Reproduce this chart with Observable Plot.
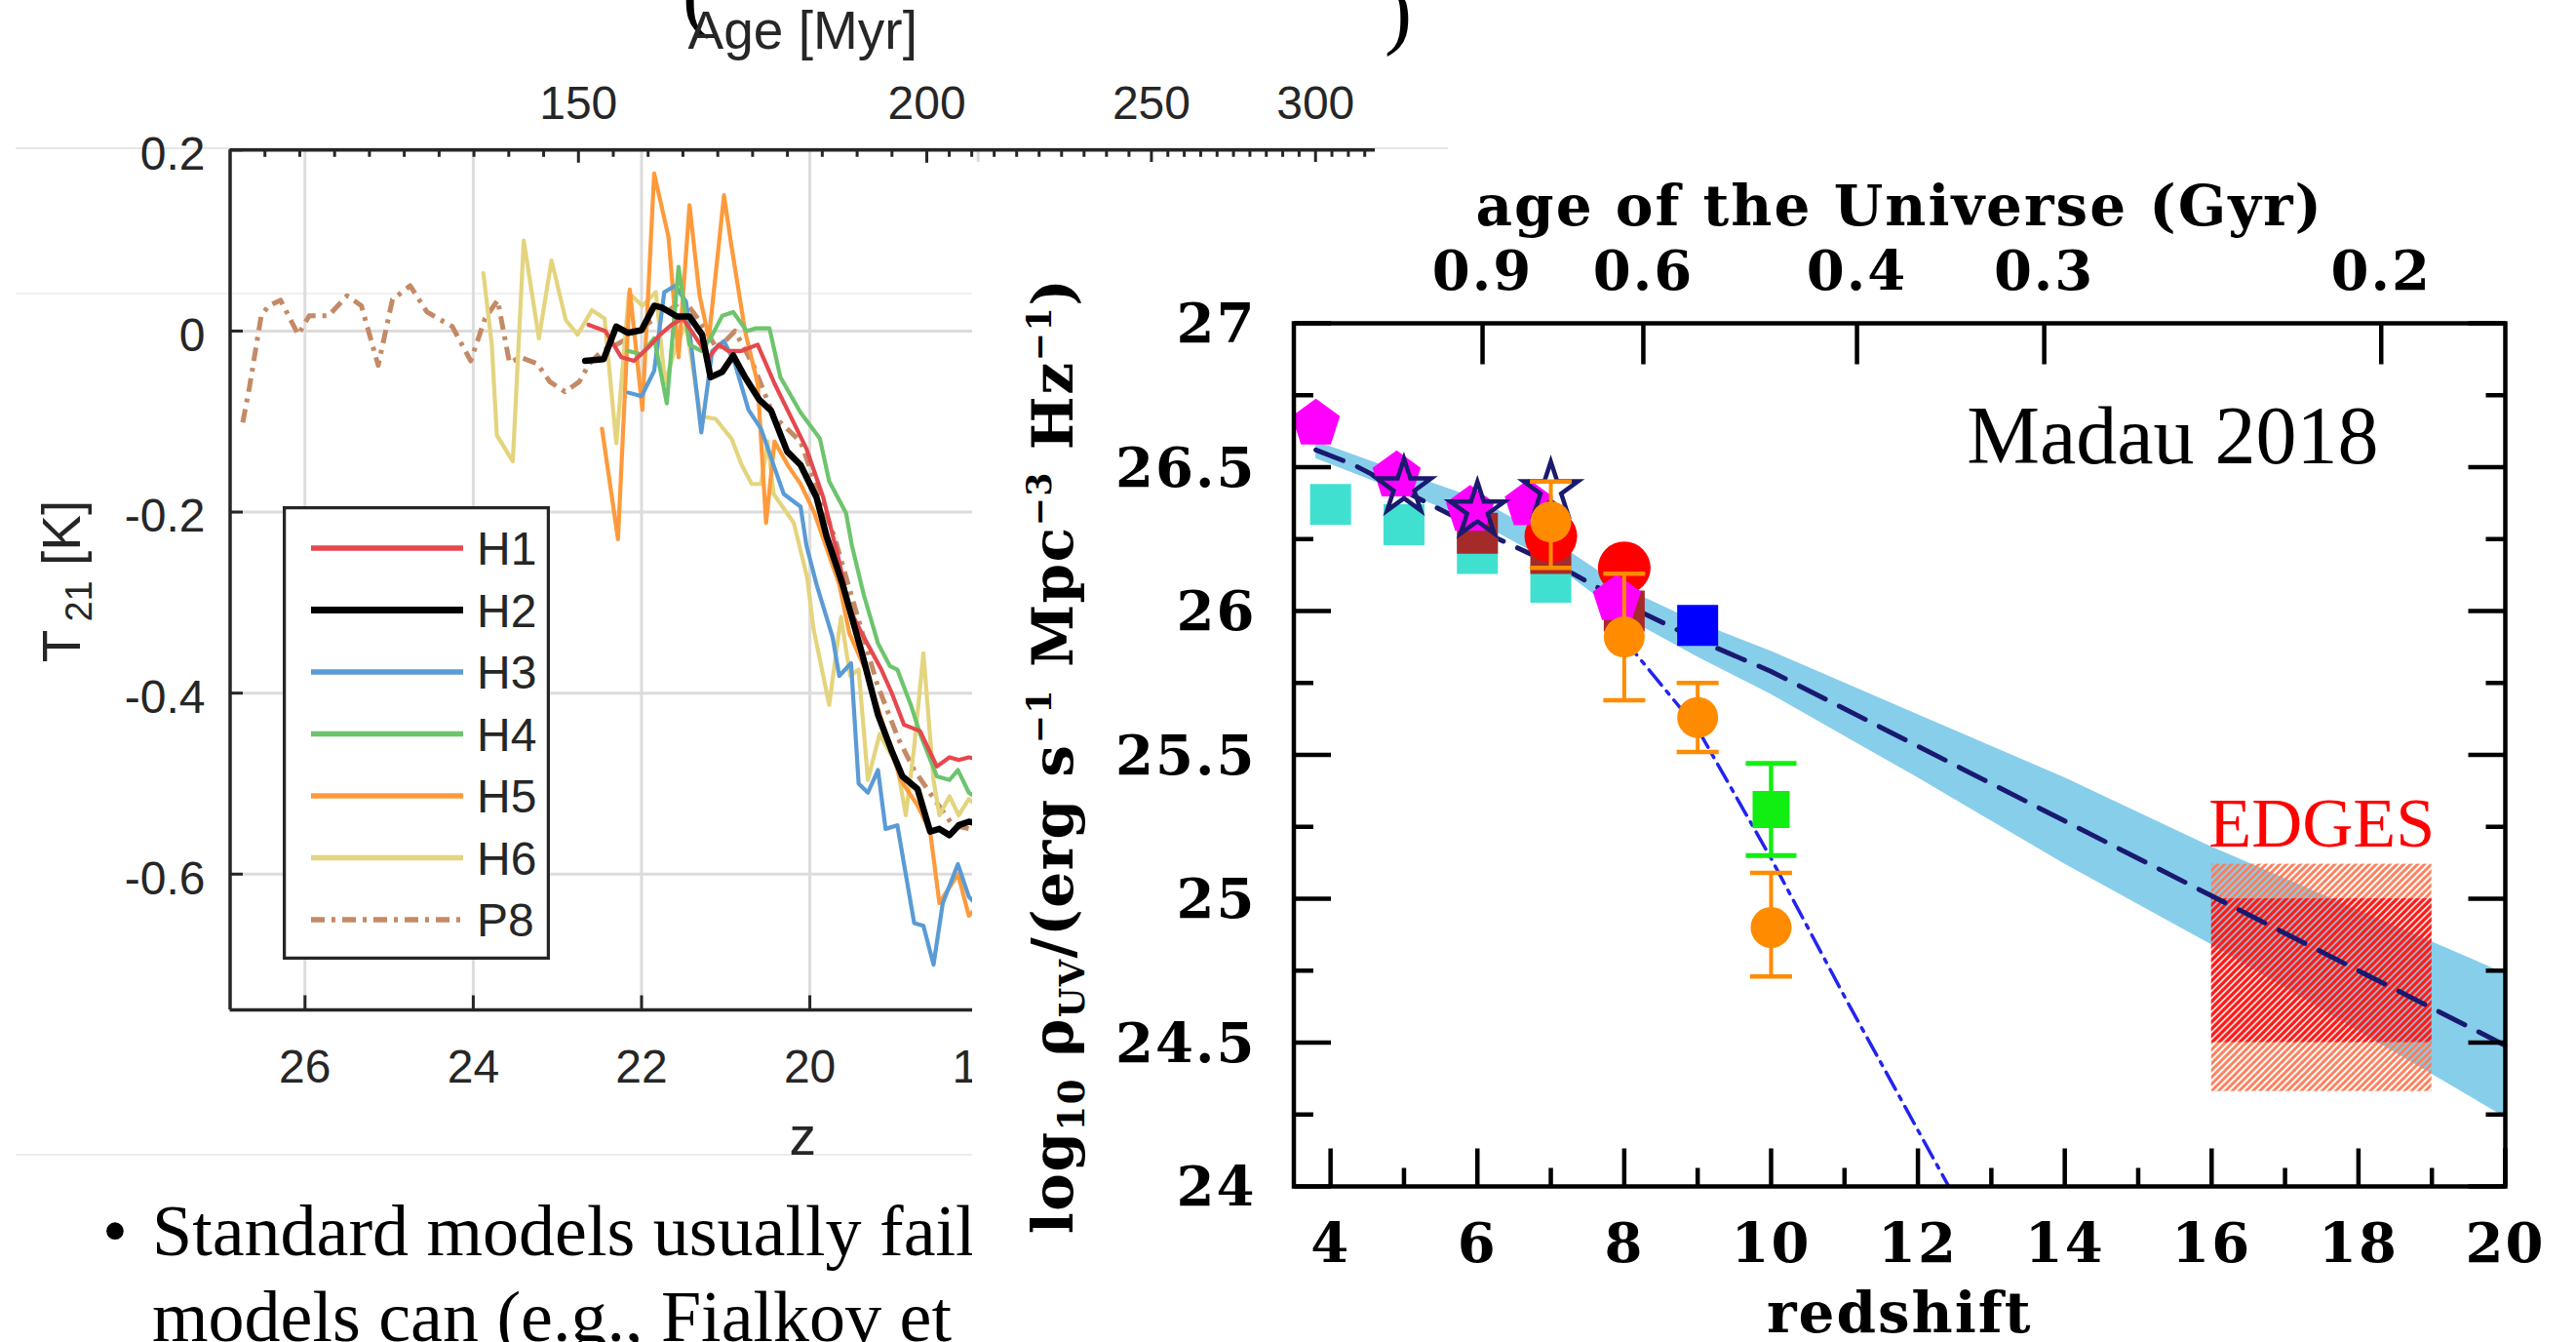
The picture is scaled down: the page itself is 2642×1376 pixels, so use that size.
<!DOCTYPE html>
<html>
<head>
<meta charset="utf-8">
<script src="https://cdn.jsdelivr.net/npm/d3@7"></script>
<script src="https://cdn.jsdelivr.net/npm/@observablehq/plot@0.6"></script>
<style>
html, body { margin: 0; padding: 0; background: #fff; }
#stage { position: relative; width: 2642px; height: 1376px; overflow: hidden; background: #fff; }
#stage > * { position: absolute; }
</style>
</head>
<body>
<div id="stage"></div>
<script>
// ================= LEFT PANEL DATA : T21 [K] versus z =================
const leftSeriesNames  = ["H1", "H2", "H3", "H4", "H5", "H6", "P8"];
const leftSeriesColors = ["#e5484d", "#000000", "#5a9bd5", "#6dc46d", "#fe9a3c", "#e4d47e", "#c48a66"];

const H1 = [[22.63,0.007],[22.43,0.000],[22.24,-0.029],[22.09,-0.033],[21.93,-0.019],[21.78,-0.004],[21.64,0.007],[21.51,0.014],[21.35,-0.008],[21.20,-0.029],[21.08,-0.015],[20.97,-0.022],[20.81,-0.022],[20.62,-0.015],[20.42,-0.058],[20.23,-0.094],[20.04,-0.130],[19.84,-0.184],[19.65,-0.255],[19.54,-0.305],[19.36,-0.338],[19.15,-0.374],[19.03,-0.399],[18.88,-0.435],[18.69,-0.442],[18.49,-0.481],[18.34,-0.471],[18.23,-0.474],[18.11,-0.471],[17.95,-0.475]];
const H2 = [[22.67,-0.033],[22.45,-0.031],[22.30,0.005],[22.16,-0.002],[22.00,0.001],[21.85,0.028],[21.76,0.026],[21.58,0.016],[21.43,0.016],[21.28,-0.004],[21.18,-0.051],[21.04,-0.045],[20.91,-0.027],[20.77,-0.051],[20.60,-0.076],[20.46,-0.088],[20.27,-0.133],[20.11,-0.148],[19.92,-0.184],[19.80,-0.227],[19.61,-0.280],[19.38,-0.356],[19.19,-0.424],[19.03,-0.463],[18.90,-0.492],[18.72,-0.506],[18.57,-0.553],[18.46,-0.550],[18.34,-0.557],[18.23,-0.546],[18.11,-0.542],[17.95,-0.545]];
const H3 = [[22.16,-0.068],[22.00,-0.072],[21.85,-0.044],[21.73,0.043],[21.60,0.050],[21.47,0.032],[21.29,-0.112],[21.16,-0.022],[21.02,-0.011],[20.89,-0.036],[20.73,-0.087],[20.58,-0.108],[20.42,-0.151],[20.31,-0.180],[20.11,-0.194],[20.04,-0.237],[19.92,-0.280],[19.73,-0.338],[19.65,-0.381],[19.51,-0.367],[19.42,-0.500],[19.31,-0.510],[19.19,-0.485],[19.10,-0.550],[18.96,-0.546],[18.76,-0.654],[18.65,-0.657],[18.53,-0.700],[18.42,-0.632],[18.24,-0.589],[18.11,-0.625],[17.95,-0.640]];
const H4 = [[22.16,-0.022],[22.00,-0.026],[21.85,-0.008],[21.70,-0.080],[21.56,0.071],[21.43,-0.015],[21.29,-0.022],[21.18,-0.008],[21.04,0.017],[20.91,0.021],[20.75,0.000],[20.64,0.003],[20.48,0.003],[20.35,-0.051],[20.11,-0.090],[19.88,-0.119],[19.77,-0.166],[19.57,-0.201],[19.50,-0.237],[19.36,-0.291],[19.19,-0.345],[19.05,-0.370],[18.96,-0.374],[18.80,-0.413],[18.69,-0.445],[18.49,-0.492],[18.34,-0.496],[18.24,-0.485],[18.11,-0.510],[17.95,-0.520]];
const H5 = [[22.47,-0.108],[22.28,-0.230],[22.14,0.046],[21.99,-0.087],[21.85,0.174],[21.68,0.104],[21.56,-0.029],[21.43,0.139],[21.31,0.039],[21.20,-0.008],[21.02,0.150],[20.93,0.093],[20.77,0.000],[20.62,-0.058],[20.52,-0.212],[20.42,-0.122],[20.25,-0.150],[20.11,-0.169],[19.95,-0.200],[19.80,-0.240],[19.65,-0.280],[19.53,-0.334],[19.34,-0.374],[19.19,-0.417],[18.92,-0.496],[18.72,-0.524],[18.57,-0.553],[18.46,-0.632],[18.24,-0.600],[18.11,-0.646],[17.95,-0.630]];
const H6 = [[23.88,0.064],[23.78,-0.015],[23.72,-0.115],[23.53,-0.144],[23.40,0.100],[23.22,-0.008],[23.07,0.078],[22.90,0.012],[22.76,-0.004],[22.59,0.023],[22.44,0.014],[22.30,-0.124],[22.15,0.042],[21.99,0.028],[21.83,0.043],[21.72,-0.058],[21.59,-0.015],[21.47,0.007],[21.30,-0.094],[21.12,-0.097],[20.93,-0.119],[20.81,-0.148],[20.69,-0.169],[20.58,-0.169],[20.50,-0.122],[20.43,-0.180],[20.19,-0.212],[20.03,-0.273],[19.96,-0.327],[19.77,-0.413],[19.63,-0.316],[19.52,-0.381],[19.42,-0.374],[19.31,-0.496],[19.17,-0.445],[18.96,-0.481],[18.86,-0.535],[18.76,-0.460],[18.65,-0.356],[18.53,-0.496],[18.46,-0.535],[18.34,-0.514],[18.23,-0.535],[18.11,-0.517],[17.95,-0.530]];
const P8 = [[26.74,-0.101],[26.66,-0.062],[26.52,0.017],[26.43,0.028],[26.29,0.034],[26.08,-0.004],[25.95,0.017],[25.72,0.017],[25.50,0.039],[25.33,0.028],[25.13,-0.038],[24.96,0.035],[24.75,0.050],[24.55,0.021],[24.25,0.005],[24.03,-0.033],[23.86,0.014],[23.71,0.034],[23.57,-0.035],[23.44,-0.029],[23.24,-0.036],[23.09,-0.056],[22.91,-0.067],[22.74,-0.056],[22.62,-0.036],[22.47,-0.022],[22.30,-0.015],[22.10,-0.005],[21.90,0.010],[21.70,0.021],[21.50,0.035],[21.30,0.010],[21.10,-0.020],[20.89,0.000],[20.66,-0.040],[20.43,-0.094],[20.11,-0.122],[19.96,-0.162],[19.70,-0.230],[19.45,-0.310],[19.20,-0.390],[18.95,-0.450],[18.76,-0.485],[18.50,-0.520],[18.30,-0.546],[18.10,-0.550],[17.90,-0.555]];

const leftZDomain = [26.89, 13.28];
const leftTDomain = [-0.75, 0.2];
const leftZTicks = [26, 24, 22, 20, 18];
const leftTTicks = [0.2, 0, -0.2, -0.4, -0.6];
const leftTTickLabels = ["0.2", "0", "-0.2", "-0.4", "-0.6"];
const ageMyrLabels = ["150", "200", "250", "300"];
const ageMyrTickZ = [22.75, 18.61, 15.94, 13.99];

// ================= RIGHT PANEL DATA : log10 rho_UV versus redshift =================
const rightZDomain = [3.5, 20];
const rightVDomain = [24, 27];
const fitZ = [3.8, 4.3, 5.36, 6.29, 7.3, 8.28, 9.0, 10.0, 12.0, 14.0, 16.0, 18.0, 20.0];
const fitV = [26.56, 26.51, 26.37, 26.25, 26.13, 25.99, 25.90, 25.79, 25.53, 25.27, 25.01, 24.75, 24.49];
const bandZ  = [3.8, 5, 6, 7, 8, 9, 10, 12, 14, 16, 18, 20];
const bandLo = [26.53, 26.41, 26.31, 26.17, 25.98, 25.84, 25.71, 25.42, 25.12, 24.84, 24.54, 24.24];
const bandHi = [26.59, 26.48, 26.39, 26.25, 26.08, 25.96, 25.86, 25.64, 25.42, 25.18, 24.96, 24.74];
const steepZ = [8, 9, 10, 11, 12.42];
const steepV = [25.90, 25.59, 25.14, 24.66, 24.00];
const pentZ = [3.8, 4.9, 5.9, 6.7, 7.9];
const pentV = [26.65, 26.47, 26.35, 26.37, 26.04];
const starZ = [5.0, 6.0, 7.0];
const starV = [26.43, 26.35, 26.42];
const cyanZ = [4.0, 5.0, 6.0, 7.0];
const cyanV = [26.37, 26.30, 26.20, 26.10];
const brownZ = [6, 7, 8];
const brownV = [26.27, 26.20, 26.00];
const redZ = [7, 8];
const redV = [26.26, 26.15];
const orangeZ  = [7, 8, 9, 10];
const orangeV  = [26.31, 25.91, 25.63, 24.90];
const orangeLo = [26.15, 25.69, 25.51, 24.73];
const orangeHi = [26.45, 26.13, 25.75, 25.09];
const blueZ = [9];
const blueV = [25.95];
const greenZ  = [10];
const greenV  = [25.31];
const greenLo = [25.15];
const greenHi = [25.47];
const edgesZ = [16, 19];
const edgesOuter = [24.33, 25.12];
const edgesInner = [24.50, 25.00];
const rightXTicks = [4, 6, 8, 10, 12, 14, 16, 18, 20];
const rightXMinor = [5, 7, 9, 11, 13, 15, 17, 19];
const rightYTicks = [24, 24.5, 25, 25.5, 26, 26.5, 27];
const rightYMinor = [24.25, 24.75, 25.25, 25.75, 26.25, 26.75];
const ageGyrLabels = ["0.9", "0.6", "0.4", "0.3", "0.2"];
const ageGyrTickZ = [6.07, 8.26, 11.17, 13.72, 18.31];

// ================= helpers =================
const symTick = (dx, dy) => ({draw(ctx, size) { const l = Math.sqrt(size / Math.PI); ctx.moveTo(0, 0); ctx.lineTo(dx * l, dy * l); }});
const symUp = symTick(0, -1), symDown = symTick(0, 1), symRight = symTick(1, 0), symLeft = symTick(-1, 0);
const symHBar = {draw(ctx, size) { const l = Math.sqrt(size / Math.PI); ctx.moveTo(-l, 0); ctx.lineTo(l, 0); }};
const symPentagon = {draw(ctx, size) {
  const r = Math.sqrt(size / Math.PI);
  for (let i = 0; i < 5; i++) {
    const a = -Math.PI / 2 + i * 2 * Math.PI / 5;
    const x = r * Math.cos(a), y = r * Math.sin(a);
    if (i) ctx.lineTo(x, y); else ctx.moveTo(x, y);
  }
  ctx.closePath();
}};
const pts = (zs, vs) => zs.map((z, i) => ({z, v: vs[i]}));
const M = "middle";

const stage = document.getElementById("stage");
const W = 2642, H = 1376;

// ================= decorations under =================
const under = d3.create("svg").attr("width", W).attr("height", H).style("left", "0px").style("top", "0px");
under.append("line").attr("x1", 16).attr("x2", 1485).attr("y1", 152).attr("y2", 152).attr("stroke", "#e6e6e6").attr("stroke-width", 2);
under.append("line").attr("x1", 16).attr("x2", 997).attr("y1", 301).attr("y2", 301).attr("stroke", "#f1f1f1").attr("stroke-width", 2);
under.append("line").attr("x1", 16).attr("x2", 997).attr("y1", 1184).attr("y2", 1184).attr("stroke", "#ececec").attr("stroke-width", 2);
under.append("text").attr("x", 700).attr("y", 22).attr("font-family", "Liberation Serif").attr("font-size", 84).text("(");
under.append("text").attr("x", 1420).attr("y", 40).attr("font-family", "Liberation Serif").attr("font-size", 84).text(")");
under.append("text").attr("x", 105).attr("y", 1287).attr("font-family", "Liberation Serif").attr("font-size", 74).text("\u2022");
under.append("text").attr("x", 156).attr("y", 1287).attr("font-family", "Liberation Serif").attr("font-size", 74).text("Standard models usually fail");
under.append("text").attr("x", 156).attr("y", 1375).attr("font-family", "Liberation Serif").attr("font-size", 74).text("models can (e.g., Fialkov et");
const lt = under.append("text").attr("transform", "translate(82,596) rotate(-90)").attr("text-anchor", "middle")
  .attr("font-family", "Liberation Sans").attr("font-size", 55).attr("fill", "#262626");
lt.append("tspan").text("T");
lt.append("tspan").attr("font-size", 38).attr("dy", 12).attr("dx", 8).text("21");
lt.append("tspan").attr("dy", -12).text(" [K]");
stage.appendChild(under.node());

// ================= LEFT PLOT =================
const axisCol = "#262626";
const leftSeries = [H1, H2, H3, H4, H5, H6, P8];
const drawOrder = ["P8", "H6", "H5", "H3", "H4", "H1", "H2"];

const ageMinorZ = [];
for (let k = 0; k < ageMyrTickZ.length - 1; k++) {
  const a = ageMyrTickZ[k], b = ageMyrTickZ[k + 1];
  for (let j = 1; j < 10; j++) ageMinorZ.push(a + (b - a) * j / 10);
}
{
  const s0 = (ageMyrTickZ[1] - ageMyrTickZ[0]) / 10;
  for (let z = ageMyrTickZ[0] - s0; z <= leftZDomain[0]; z -= s0) ageMinorZ.push(z);
  const n = ageMyrTickZ.length;
  const sN = (ageMyrTickZ[n - 1] - ageMyrTickZ[n - 2]) / 10;
  for (let z = ageMyrTickZ[n - 1] + sN; z >= leftZDomain[1]; z += sN) ageMinorZ.push(z);
}

const leftPlot = Plot.plot({
  width: 1480, height: 1200,
  marginLeft: 235.5, marginTop: 153.3, marginRight: 70, marginBottom: 165,
  x: {domain: leftZDomain, axis: null},
  y: {domain: leftTDomain, axis: null},
  style: {fontFamily: "Liberation Sans", fontSize: "48px", color: axisCol, background: "transparent", overflow: "visible"},
  marks: [
    Plot.ruleX(leftZTicks, {x: d => d, stroke: "#dcdcdc", strokeWidth: 3}),
    Plot.ruleY(leftTTicks, {y: d => d, stroke: "#dcdcdc", strokeWidth: 3}),
    ...drawOrder.map(name => {
      const i = leftSeriesNames.indexOf(name);
      return Plot.line(leftSeries[i], {
        x: d => d[0], y: d => d[1], stroke: leftSeriesColors[i],
        strokeWidth: name === "H2" ? 6.5 : (name === "P8" ? 5 : 4.2),
        strokeDasharray: name === "P8" ? "14,7,4,7" : null,
        strokeLinejoin: "round", strokeLinecap: name === "P8" ? "butt" : "round"
      });
    }),
    Plot.ruleY([leftTDomain[1]], {y: d => d, stroke: axisCol, strokeWidth: 3.5}),
    Plot.ruleY([leftTDomain[0]], {y: d => d, stroke: axisCol, strokeWidth: 3.5}),
    Plot.ruleX([leftZDomain[0]], {x: d => d, stroke: axisCol, strokeWidth: 3.5}),
    Plot.dot(leftTTicks, {y: d => d, frameAnchor: "left", symbol: symRight, r: 13, stroke: axisCol, strokeWidth: 3, fill: "none"}),
    Plot.dot(leftZTicks, {x: d => d, frameAnchor: "bottom", symbol: symUp, r: 15, stroke: axisCol, strokeWidth: 3, fill: "none"}),
    Plot.dot(ageMyrTickZ, {x: d => d, frameAnchor: "top", symbol: symDown, r: 13, stroke: axisCol, strokeWidth: 3, fill: "none"}),
    Plot.dot(ageMinorZ, {x: d => d, frameAnchor: "top", symbol: symDown, r: 7, stroke: axisCol, strokeWidth: 3, fill: "none"}),
    Plot.text(leftTTicks, {y: d => d, text: (d, i) => leftTTickLabels[i], frameAnchor: "left", lineAnchor: M, textAnchor: "end", dx: -25.5, dy: 5}),
    Plot.text(leftZTicks, {x: d => d, text: d => String(d), frameAnchor: "bottom", lineAnchor: M, dy: 59}),
    Plot.text(ageMyrTickZ, {x: d => d, text: (d, i) => ageMyrLabels[i], frameAnchor: "top", lineAnchor: M, dy: -47}),
    Plot.text(["Age [Myr]"], {text: d => d, frameAnchor: "top", lineAnchor: M, dy: -121, fontSize: 55}),
    Plot.text(["z"], {text: d => d, frameAnchor: "bottom", lineAnchor: M, dy: 131, fontSize: 55})
  ]
});
leftPlot.style.left = "0px";
leftPlot.style.top = "0px";
stage.appendChild(leftPlot);

// ================= LEFT LEGEND =================
const leg = d3.create("svg").attr("width", 274).attr("height", 465).style("left", "290px").style("top", "519px");
leg.append("rect").attr("x", 1.5).attr("y", 1.5).attr("width", 271).attr("height", 462).attr("fill", "#fff").attr("stroke", axisCol).attr("stroke-width", 3.5);
leftSeriesNames.forEach((name, i) => {
  const y = 43 + i * 63.5;
  leg.append("line").attr("x1", 29).attr("x2", 185).attr("y1", y).attr("y2", y)
    .attr("stroke", leftSeriesColors[i]).attr("stroke-width", name === "H2" ? 7 : 5.5)
    .attr("stroke-dasharray", name === "P8" ? "14,7,4,7" : null);
  leg.append("text").attr("x", 199).attr("y", y).attr("dy", "0.36em").attr("font-family", "Liberation Sans")
    .attr("font-size", 48).attr("fill", axisCol).text(name);
});
stage.appendChild(leg.node());

// ================= RIGHT PLOT =================
const serif = "DejaVu Serif";
const band = bandZ.map((z, i) => ({z, lo: bandLo[i], hi: bandHi[i]}));
const edges = [{z1: edgesZ[0], z2: edgesZ[1], outerLo: edgesOuter[0], outerHi: edgesOuter[1], innerLo: edgesInner[0], innerHi: edgesInner[1]}];
const orangeRows = orangeZ.map((z, i) => ({z, v: orangeV[i], lo: orangeLo[i], hi: orangeHi[i]}));
const greenRows = greenZ.map((z, i) => ({z, v: greenV[i], lo: greenLo[i], hi: greenHi[i]}));
const tk = {stroke: "black", strokeWidth: 4.5, fill: "none"};

const rightPlot = Plot.plot({
  width: 1645, height: 1210,
  marginLeft: 329.5, marginTop: 165, marginRight: 73, marginBottom: 160,
  x: {domain: rightZDomain, axis: null},
  y: {domain: rightVDomain, axis: null},
  style: {fontFamily: serif, fontSize: "56px", fontWeight: "bold", color: "black", background: "white", overflow: "visible", letterSpacing: "2px"},
  marks: [
    Plot.areaY(band, {x: "z", y1: "lo", y2: "hi", fill: "#87ceeb"}),
    Plot.rect(edges, {x1: "z1", x2: "z2", y1: "outerLo", y2: "outerHi", fill: "url(#hatchOuter)"}),
    Plot.rect(edges, {x1: "z1", x2: "z2", y1: "innerLo", y2: "innerHi", fill: "url(#hatchInner)"}),
    Plot.line(pts(fitZ, fitV), {x: "z", y: "v", stroke: "#191970", strokeWidth: 5, strokeDasharray: "30,16"}),
    Plot.line(pts(steepZ, steepV), {x: "z", y: "v", stroke: "#2323f0", strokeWidth: 3.5, strokeDasharray: "20,8,4,8", clip: true}),
    Plot.dot(pts(cyanZ, cyanV), {x: "z", y: "v", symbol: "square", r: 23.7, fill: "#40e0d0", stroke: "none"}),
    Plot.dot(pts(brownZ, brownV), {x: "z", y: "v", symbol: "square", r: 23.7, fill: "#a52a2a", stroke: "none"}),
    Plot.dot(pts(redZ, redV), {x: "z", y: "v", r: 27, fill: "#ff0000", stroke: "none"}),
    Plot.dot(pts(pentZ, pentV), {x: "z", y: "v", symbol: symPentagon, r: 26, fill: "#ff00ff", stroke: "none"}),
    Plot.dot(pts(starZ, starV), {x: "z", y: "v", symbol: "star", r: 17.5, fill: "none", stroke: "#1a1a6e", strokeWidth: 4.5}),
    Plot.ruleX(orangeRows, {x: "z", y1: "lo", y2: "hi", stroke: "#ff8c00", strokeWidth: 4}),
    Plot.dot(orangeRows, {x: "z", y: "lo", symbol: symHBar, r: 21.5, stroke: "#ff8c00", strokeWidth: 4.5, fill: "none"}),
    Plot.dot(orangeRows, {x: "z", y: "hi", symbol: symHBar, r: 21.5, stroke: "#ff8c00", strokeWidth: 4.5, fill: "none"}),
    Plot.dot(orangeRows, {x: "z", y: "v", r: 21, fill: "#ff8c00", stroke: "none"}),
    Plot.dot(pts(blueZ, blueV), {x: "z", y: "v", symbol: "square", r: 23.7, fill: "#0000ff", stroke: "none"}),
    Plot.ruleX(greenRows, {x: "z", y1: "lo", y2: "hi", stroke: "#11ee11", strokeWidth: 4.5}),
    Plot.dot(greenRows, {x: "z", y: "lo", symbol: symHBar, r: 26, stroke: "#11ee11", strokeWidth: 5, fill: "none"}),
    Plot.dot(greenRows, {x: "z", y: "hi", symbol: symHBar, r: 26, stroke: "#11ee11", strokeWidth: 5, fill: "none"}),
    Plot.dot(greenRows, {x: "z", y: "v", symbol: "square", r: 21.4, fill: "#11ee11", stroke: "none"}),
    Plot.frame({stroke: "black", strokeWidth: 4.5}),
    Plot.dot(rightYTicks, {y: d => d, frameAnchor: "left", symbol: symRight, r: 38, ...tk}),
    Plot.dot(rightYTicks, {y: d => d, frameAnchor: "right", symbol: symLeft, r: 38, ...tk}),
    Plot.dot(rightYMinor, {y: d => d, frameAnchor: "left", symbol: symRight, r: 20, ...tk}),
    Plot.dot(rightYMinor, {y: d => d, frameAnchor: "right", symbol: symLeft, r: 20, ...tk}),
    Plot.dot(rightXTicks, {x: d => d, frameAnchor: "bottom", symbol: symUp, r: 39, ...tk}),
    Plot.dot(rightXMinor, {x: d => d, frameAnchor: "bottom", symbol: symUp, r: 19, ...tk}),
    Plot.dot(ageGyrTickZ, {x: d => d, frameAnchor: "top", symbol: symDown, r: 42, ...tk}),
    Plot.text(rightYTicks, {y: d => d, text: d => String(d), frameAnchor: "left", lineAnchor: M, textAnchor: "end", dx: -38.5, dy: 2}),
    Plot.text(rightXTicks, {x: d => d, text: d => String(d), frameAnchor: "bottom", lineAnchor: M, dy: 60}),
    Plot.text(ageGyrTickZ, {x: d => d, text: (d, i) => ageGyrLabels[i], frameAnchor: "top", lineAnchor: M, dy: -52}),
    Plot.text(["age of the Universe (Gyr)"], {text: d => d, frameAnchor: "top", lineAnchor: M, dy: -119, fontSize: 58}),
    Plot.text(["redshift"], {text: d => d, frameAnchor: "bottom", lineAnchor: M, dy: 131, fontSize: 58}),
    Plot.text(["Madau 2018"], {text: d => d, frameAnchor: "top-right", lineAnchor: M, textAnchor: "end", dx: -130, dy: 116.6,
      fontFamily: "Liberation Serif", fontWeight: "normal", fontSize: 84}),
    Plot.text(edges, {x: d => (d.z1 + d.z2) / 2, y: "outerHi", text: () => "EDGES", lineAnchor: M, dy: -41.5,
      fill: "#ff0000", fontFamily: "Liberation Serif", fontWeight: "normal", fontSize: 72})
  ]
});
{
  const defs = d3.select(rightPlot).insert("defs", ":first-child");
  const hatch = (id, color, w, gap) => {
    const p = defs.append("pattern").attr("id", id).attr("patternUnits", "userSpaceOnUse")
      .attr("width", gap).attr("height", gap).attr("patternTransform", "rotate(45)");
    p.append("line").attr("x1", gap / 2).attr("x2", gap / 2).attr("y1", 0).attr("y2", gap)
      .attr("stroke", color).attr("stroke-width", w);
  };
  hatch("hatchOuter", "#ff7a55", 2.8, 5);
  hatch("hatchInner", "#ff1a1a", 3.3, 5);
  // serif (Times-like) annotations keep normal spacing
  d3.select(rightPlot).selectAll("text").each(function() {
    const host = this.closest("[font-family]");
    if (host && /Liberation/.test(host.getAttribute("font-family"))) this.style.letterSpacing = "0px";
  });
}
const rightBox = document.createElement("div");
rightBox.style.cssText = "left:997px;top:166px;width:1645px;height:1210px;background:#fff;";
rightBox.appendChild(rightPlot);
stage.appendChild(rightBox);

// ================= decorations over (right y title) =================
const over = d3.create("svg").attr("width", W).attr("height", H).style("left", "0px").style("top", "0px").style("pointer-events", "none");
const rt = over.append("text").attr("transform", "translate(1100,775) rotate(-90)").attr("text-anchor", "middle")
  .attr("font-family", serif).attr("font-weight", "bold").attr("font-size", 58).attr("letter-spacing", 1.5).attr("fill", "black");
rt.append("tspan").text("log");
rt.append("tspan").attr("font-size", 37).attr("dy", 12).text("10");
rt.append("tspan").attr("dy", -12).text(" \u03C1");
rt.append("tspan").attr("font-size", 35).attr("dy", 12).text("UV");
rt.append("tspan").attr("dy", -12).text("/(erg s");
rt.append("tspan").attr("font-size", 35).attr("dy", -22).text("\u22121");
rt.append("tspan").attr("dy", 22).text(" Mpc");
rt.append("tspan").attr("font-size", 35).attr("dy", -22).text("\u22123");
rt.append("tspan").attr("dy", 22).text(" Hz");
rt.append("tspan").attr("font-size", 35).attr("dy", -22).text("\u22121");
rt.append("tspan").attr("dy", 22).text(")");
stage.appendChild(over.node());
</script>
</body>
</html>
